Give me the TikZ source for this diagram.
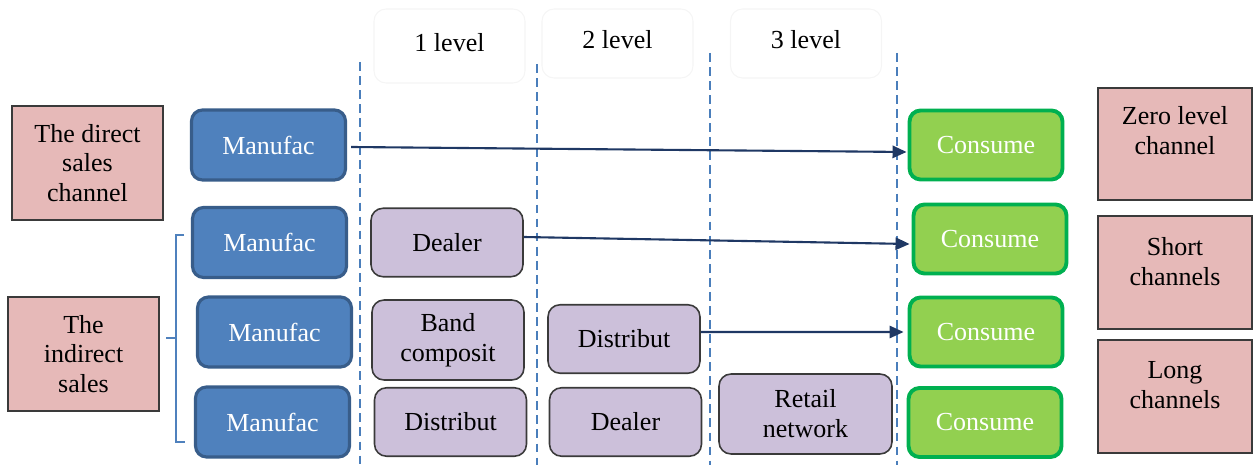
\documentclass[tikz,border=0pt]{standalone}
\usepackage{fontspec}
\setmainfont{Liberation Serif}
\usetikzlibrary{arrows.meta}
\definecolor{pinkf}{HTML}{E6B9B8}
\definecolor{bluef}{HTML}{4F81BD}
\definecolor{blued}{HTML}{385D8A}
\definecolor{greenf}{HTML}{92D050}
\definecolor{greend}{HTML}{00B050}
\definecolor{purpf}{HTML}{CCC0DA}
\definecolor{edgegray}{HTML}{3A3A3A}
\definecolor{arrc}{HTML}{1F3864}
\definecolor{dashc}{HTML}{4A7EBB}
\begin{document}
\begin{tikzpicture}[x=0.02cm,y=-0.02cm,
  every node/.style={font=\fontsize{14.8}{17}\selectfont, align=center, inner sep=0pt},
  pinkbox/.style={draw=edgegray, line width=1pt, fill=pinkf, minimum width=30.2mm, minimum height=22.7mm},
  manbox/.style={draw=blued, line width=1.8pt, fill=bluef, rounded corners=2.2mm, text=white, minimum width=30.8mm, minimum height=14mm},
  conbox/.style={draw=greend, line width=2.2pt, fill=greenf, rounded corners=2.2mm, text=white, minimum width=30.6mm, minimum height=13.8mm},
  midbox/.style={draw=edgegray, line width=0.9pt, fill=purpf, rounded corners=2.4mm, minimum width=30.4mm, minimum height=13.7mm},
  levbox/.style={draw=black!4, line width=0.6pt, rounded corners=2.4mm, minimum width=30.2mm, minimum height=14mm},
  divline/.style={draw=dashc, line width=1.3pt, dash pattern=on 5pt off 3pt},
  arr/.style={draw=arrc, line width=1.2pt, -{Triangle[length=8pt,width=7pt]}}
]
\useasboundingbox (0,0) rectangle (1257,472);
% level headers
\node[levbox, minimum height=14.8mm] (lev1) at (449.5,46) {};
\node at (449.5,43) (lev1t) {1 level};
\node[levbox, minimum height=13.8mm] (lev2) at (617.5,43.5) {};
\node at (617.5,40) (lev2t) {2 level};
\node[levbox, minimum height=13.8mm] (lev3) at (806,43.5) {};
\node at (806,40) (lev3t) {3 level};
% dashed dividers
\coordinate (d1a) at (360,62);  \coordinate (d1b) at (360,465);
\coordinate (d2a) at (537,64);  \coordinate (d2b) at (537,465);
\coordinate (d3a) at (710,53);  \coordinate (d3b) at (710,465);
\coordinate (d4a) at (897,53);  \coordinate (d4b) at (897,465);
\draw[divline] (d1a) -- (d1b);
\draw[divline] (d2a) -- (d2b);
\draw[divline] (d3a) -- (d3b);
\draw[divline] (d4a) -- (d4b);
% left labels
\node[pinkbox] (direct) at (87.5,163) {The direct\\sales\\channel};
\node[pinkbox] (indirect) at (83.5,354) {The\\indirect\\sales};
% bracket
\coordinate (bt) at (184,235); \coordinate (bb) at (185,442); \coordinate (bm) at (166,338);
\draw[draw=bluef, line width=1.4pt] (bt) -- (176,235) -- (176,442) -- (bb);
\draw[draw=bluef, line width=1.4pt] (176,338) -- (bm);
% manufacturers
\node[manbox] (man1) at (268.5,145) {Manufac};
\node[manbox] (man2) at (269.5,242.5) {Manufac};
\node[manbox] (man3) at (274.5,332) {Manufac};
\node[manbox] (man4) at (272.5,422) {Manufac};
% intermediaries
\node[midbox] (deal1) at (447,242.5) {Dealer};
\node[midbox, minimum height=16mm] (band) at (448,340) {Band\\composit};
\node[midbox] (dist1) at (624,339) {Distribut};
\node[midbox] (dist2) at (450.5,422) {Distribut};
\node[midbox] (deal2) at (625.5,422) {Dealer};
\node[midbox, minimum width=34.6mm, minimum height=16mm] (retail) at (805.5,414) {Retail\\network};
% consumers
\node[conbox] (con1) at (986,145) {Consume};
\node[conbox] (con2) at (990,239) {Consume};
\node[conbox] (con3) at (986,332) {Consume};
\node[conbox] (con4) at (985,422.5) {Consume};
% right labels
\node[pinkbox, minimum width=30.8mm, minimum height=22.4mm,
  label={[yshift=2.6mm]center:Zero level\\channel}] (zero) at (1175,144) {};
\node[pinkbox, minimum width=30.8mm, minimum height=22.6mm,
  label={[yshift=2.2mm]center:Short\\channels}] (short) at (1175,272.5) {};
\node[pinkbox, minimum width=30.8mm, minimum height=22.6mm,
  label={[yshift=2.2mm]center:Long\\channels}] (long) at (1175,396.5) {};
% arrows
\draw[arr] ([xshift=0.8mm,yshift=-0.4mm]man1.east) -- ([xshift=-0.2mm,yshift=-1.4mm]con1.west);
\draw[arr] ([yshift=1.1mm]deal1.east) -- ([xshift=-0.4mm,yshift=-1mm]con2.west);
\draw[arr] ([yshift=1.4mm]dist1.east) -- ([xshift=-0.8mm]con3.west);
\end{tikzpicture}
\end{document}
